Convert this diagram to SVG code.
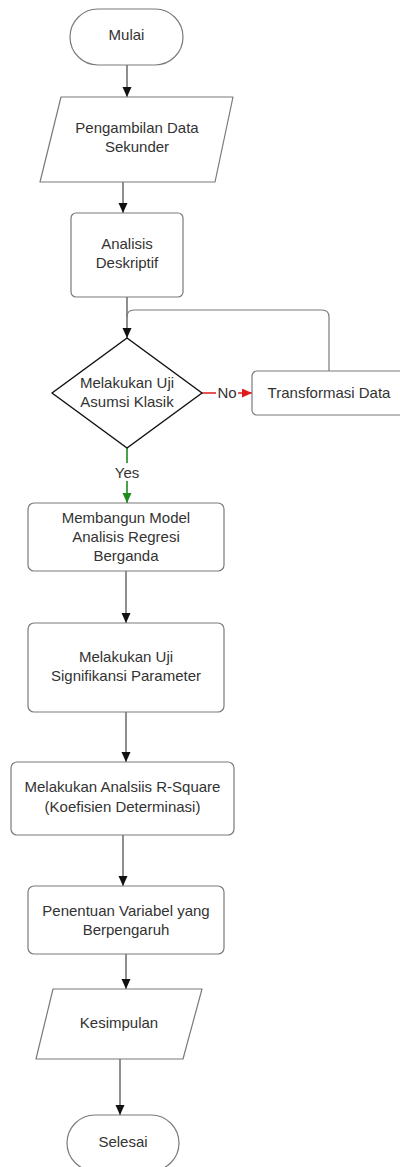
<svg xmlns="http://www.w3.org/2000/svg" width="400" height="1167" viewBox="0 0 400 1167">
  <defs>
    <style>
      .shape { fill: #ffffff; stroke: #7a7a7a; stroke-width: 1.2; stroke-linejoin: round; }
      .decision { fill: #ffffff; stroke: #111111; stroke-width: 1.5; stroke-linejoin: round; }
      .label { font-family: "Liberation Sans", Arial, sans-serif; font-size: 15px; fill: #333333; text-anchor: middle; }
      .edge { fill: none; stroke: #333333; stroke-width: 1.1; }
      .edge-no { fill: none; stroke: #e01b1b; stroke-width: 1.3; }
      .edge-yes { fill: none; stroke: #1f8a1f; stroke-width: 1.6; }
      .edge-loop { fill: none; stroke: #7a7a7a; stroke-width: 1.2; }
    </style>
    <marker id="arrow" markerUnits="userSpaceOnUse" markerWidth="10" markerHeight="10" refX="10" refY="4.5" orient="auto">
      <path d="M0,0 L10,4.5 L0,9 Z" fill="#111111"/>
    </marker>
    <marker id="arrow-red" markerUnits="userSpaceOnUse" markerWidth="10" markerHeight="10" refX="10" refY="4.5" orient="auto">
      <path d="M0,0 L10,4.5 L0,9 Z" fill="#e01b1b"/>
    </marker>
    <marker id="arrow-green" markerUnits="userSpaceOnUse" markerWidth="10" markerHeight="10" refX="10" refY="4.5" orient="auto">
      <path d="M0,0 L10,4.5 L0,9 Z" fill="#1f8a1f"/>
    </marker>
  </defs>

  <rect width="400" height="1167" fill="#ffffff"/>

  <!-- connectors -->
  <g id="connectors">
    <line class="edge" x1="127" y1="65" x2="127" y2="97" marker-end="url(#arrow)"/>
    <line class="edge" x1="123" y1="182" x2="123" y2="213" marker-end="url(#arrow)"/>
    <line class="edge" x1="127" y1="297" x2="127" y2="338" marker-end="url(#arrow)"/>
    <path class="edge-loop" d="M329,371 V317 Q329,310 322,310 H134 Q127,310 127,317"/>
    <line class="edge-no" x1="202" y1="393" x2="252" y2="393" marker-end="url(#arrow-red)"/>
    <line class="edge-yes" x1="127" y1="448" x2="127" y2="503" marker-end="url(#arrow-green)"/>
    <line class="edge" x1="126" y1="571" x2="126" y2="623" marker-end="url(#arrow)"/>
    <line class="edge" x1="126" y1="712" x2="126" y2="762" marker-end="url(#arrow)"/>
    <line class="edge" x1="123" y1="835" x2="123" y2="886" marker-end="url(#arrow)"/>
    <line class="edge" x1="126" y1="954" x2="126" y2="989" marker-end="url(#arrow)"/>
    <line class="edge" x1="120" y1="1059" x2="120" y2="1115" marker-end="url(#arrow)"/>
    <!-- edge labels -->
    <rect x="216" y="384" width="22" height="17" fill="#ffffff"/>
    <text class="label" x="227" y="398">No</text>
    <rect x="112" y="463" width="30" height="18" fill="#ffffff"/>
    <text class="label" x="127" y="478">Yes</text>
  </g>

  <g id="mulai">
    <rect class="shape" x="70" y="9" width="113" height="56" rx="28" ry="28"/>
    <text class="label" x="126.5" y="40">Mulai</text>
  </g>

  <g id="pengambilan-data">
    <path class="shape" d="M61,97 L233,97 L215,182 L40,182 Z"/>
    <text class="label" x="137" y="133">Pengambilan Data</text>
    <text class="label" x="137" y="152">Sekunder</text>
  </g>

  <g id="analisis-deskriptif">
    <rect class="shape" x="71" y="213" width="112" height="84" rx="5"/>
    <text class="label" x="127" y="249">Analisis</text>
    <text class="label" x="127" y="268">Deskriptif</text>
  </g>

  <g id="uji-asumsi">
    <polygon class="decision" points="127,338 202,393 127,448 52,393"/>
    <text class="label" x="127" y="388">Melakukan Uji</text>
    <text class="label" x="127" y="407">Asumsi Klasik</text>
  </g>

  <g id="transformasi-data">
    <rect class="shape" x="252" y="371" width="160" height="44" rx="5"/>
    <text class="label" x="329" y="398">Transformasi Data</text>
  </g>

  <g id="model-regresi">
    <rect class="shape" x="28" y="503" width="196" height="68" rx="6"/>
    <text class="label" x="126" y="523">Membangun Model</text>
    <text class="label" x="126" y="542">Analisis Regresi</text>
    <text class="label" x="126" y="561">Berganda</text>
  </g>

  <g id="uji-signifikansi">
    <rect class="shape" x="28" y="623" width="196" height="89" rx="6"/>
    <text class="label" x="126" y="662">Melakukan Uji</text>
    <text class="label" x="126" y="681">Signifikansi Parameter</text>
  </g>

  <g id="r-square">
    <rect class="shape" x="11" y="762" width="223" height="73" rx="6"/>
    <text class="label" x="122.5" y="792">Melakukan Analsiis R-Square</text>
    <text class="label" x="122.5" y="812">(Koefisien Determinasi)</text>
  </g>

  <g id="penentuan-variabel">
    <rect class="shape" x="28" y="886" width="196" height="68" rx="6"/>
    <text class="label" x="126" y="916">Penentuan Variabel yang</text>
    <text class="label" x="126" y="935">Berpengaruh</text>
  </g>

  <g id="kesimpulan">
    <path class="shape" d="M53,989 L202,989 L183,1059 L36,1059 Z"/>
    <text class="label" x="119" y="1028">Kesimpulan</text>
  </g>

  <g id="selesai">
    <rect class="shape" x="67" y="1115" width="112" height="56" rx="28" ry="28"/>
    <text class="label" x="123" y="1147">Selesai</text>
  </g>
</svg>
